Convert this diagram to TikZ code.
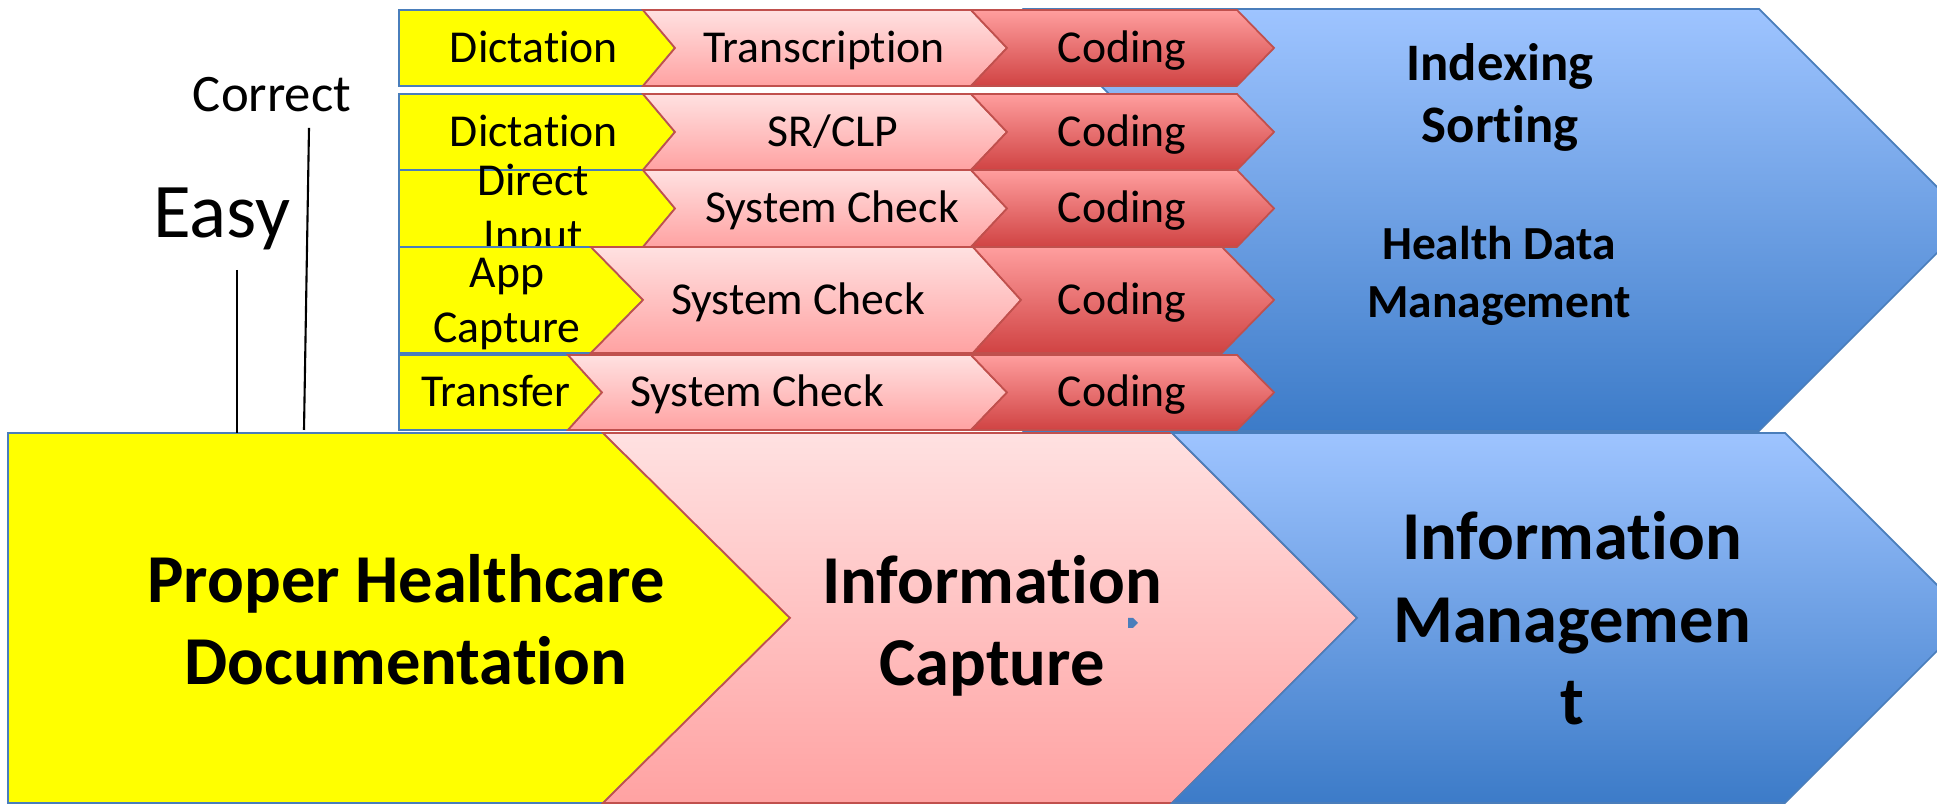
\documentclass[tikz,border=0pt]{standalone}
\usepackage{fontspec}
\setmainfont{Carlito}[Ligatures=CommonOff]
\definecolor{chevyellow}{HTML}{FFFF00}
\definecolor{chevblue}{HTML}{4A7EBB}
\definecolor{chevred}{HTML}{C0504D}
\definecolor{pinktop}{HTML}{FFE1E1}
\definecolor{pinkbot}{HTML}{FFA2A2}
\definecolor{codetop}{HTML}{FF9E9E}
\definecolor{codebot}{HTML}{D04343}
\definecolor{bluetop}{HTML}{9EC4FF}
\definecolor{bluebot}{HTML}{3C7BC8}
% style, left x, notch depth, shoulder x, tip x, top y, bottom y
\newcommand{\chevpath}[7]{\path[#1] (#2,#6) -- (#4,#6) -- (#5,{(#6+#7)/2}) -- (#4,#7) -- (#2,#7) -- ({#2+#3},{(#6+#7)/2}) -- cycle;}
\begin{document}
\begin{tikzpicture}[
  x=0.1mm,y=-0.1mm,
  outl/.style={line width=0.5pt,line join=miter},
  yel/.style={outl,fill=chevyellow,draw=chevblue},
  pnk/.style={outl,top color=pinktop,bottom color=pinkbot,draw=chevred},
  cod/.style={outl,top color=codetop,bottom color=codebot,draw=chevred},
  blu/.style={outl,top color=bluetop,bottom color=bluebot,draw=chevblue},
  lbl/.style={anchor=base,align=center,inner sep=0pt,font=\fontsize{13pt}{15.9pt}\selectfont},
  biglbl/.style={anchor=base,align=center,inner sep=0pt,font=\bfseries\fontsize{19.5pt}{23.6pt}\selectfont},
  leader/.style={line width=0.6pt,black}
]
  \useasboundingbox (0,0) rectangle (1937,806);
  \clip (0,0) rectangle (1937,806);

  \chevpath{blu}{1024}{211}{1759}{1970}{9}{431}

  \chevpath{yel}{399}{0}{643}{675}{10}{86}
  \chevpath{pnk}{643}{32}{971}{1007}{10}{86}
  \chevpath{cod}{971}{36}{1237}{1274}{10}{86}
  \node[lbl] (dict1) at (534,63) {Dictation};
  \node[lbl] (trans) at (824,63) {Transcription};
  \node[lbl] (code1) at (1122,63) {Coding};

  \chevpath{yel}{399}{0}{643}{675}{94}{170}
  \chevpath{pnk}{643}{32}{971}{1007}{94}{170}
  \chevpath{cod}{971}{36}{1237}{1274}{94}{170}
  \node[lbl] (dict2) at (534,147) {Dictation};
  \node[lbl] (srclp) at (833,147) {SR/CLP};
  \node[lbl] (code2) at (1122,147) {Coding};

  \chevpath{yel}{399}{0}{643}{675}{170}{247}
  \chevpath{pnk}{643}{32}{971}{1007}{170}{247}
  \chevpath{cod}{971}{36}{1237}{1274}{170}{247}
  \node[lbl] (direct) at (533,251) {Direct\\Input};
  \node[lbl] (check3) at (832,223) {System Check};
  \node[lbl] (code3) at (1122,223) {Coding};

  \chevpath{yel}{399}{0}{591}{643}{247}{353}
  \chevpath{pnk}{591}{52}{973}{1021}{247}{353}
  \chevpath{cod}{973}{48}{1222}{1274}{247}{353}
  \node[lbl] (appcap) at (507,343) {App\\Capture};
  \node[lbl] (check4) at (798,315) {System Check};
  \node[lbl] (code4) at (1122,315) {Coding};

  \chevpath{yel}{399}{0}{568}{602}{355}{430}
  \chevpath{pnk}{568}{34}{971}{1007}{355}{430}
  \chevpath{cod}{971}{36}{1237}{1274}{355}{430}
  \node[lbl] (transfer) at (496,407) {Transfer};
  \node[lbl] (check5) at (757,407) {System Check};
  \node[lbl] (code5) at (1122,407) {Coding};

  \node[biglbl,font=\bfseries\fontsize{15pt}{17.9pt}\selectfont] (index) at (1500,143) {Indexing\\Sorting};
  \node[biglbl,font=\bfseries\fontsize{13.5pt}{16.5pt}\selectfont] (hdm) at (1499,318) {Health Data\\Management};

  \chevpath{yel}{8}{0}{603}{790}{433}{803}
  \chevpath{pnk}{603}{187}{1172}{1357}{433}{803}
  \chevpath{blu}{1172}{185}{1785}{1970}{433}{803}
  \node[biglbl] (phd) at (406,685) {Proper Healthcare\\Documentation};
  \node[biglbl] (icap) at (992,686) {Information\\Capture};
  \node[biglbl] (imgmt) at (1572,725) {Information\\Managemen\\t};
  \path[fill=chevblue] (1128,618) -- (1133,618) -- (1138,623) -- (1133,628) -- (1128,628) -- cycle;

  \node[anchor=base,inner sep=0pt,font=\fontsize{22pt}{26pt}\selectfont] (easy) at (222,238) {Easy};
  \node[anchor=base,inner sep=0pt,font=\fontsize{15pt}{18pt}\selectfont] (correct) at (272,112) {Correct};
  \coordinate (easytop) at (237,270);
  \coordinate (easyfoot) at (237,433);
  \coordinate (correcttop) at (309,128);
  \coordinate (correctfoot) at (304,430);
  \draw[leader] (easytop) -- (easyfoot);
  \draw[leader] (correcttop) -- (correctfoot);
\end{tikzpicture}
\end{document}
